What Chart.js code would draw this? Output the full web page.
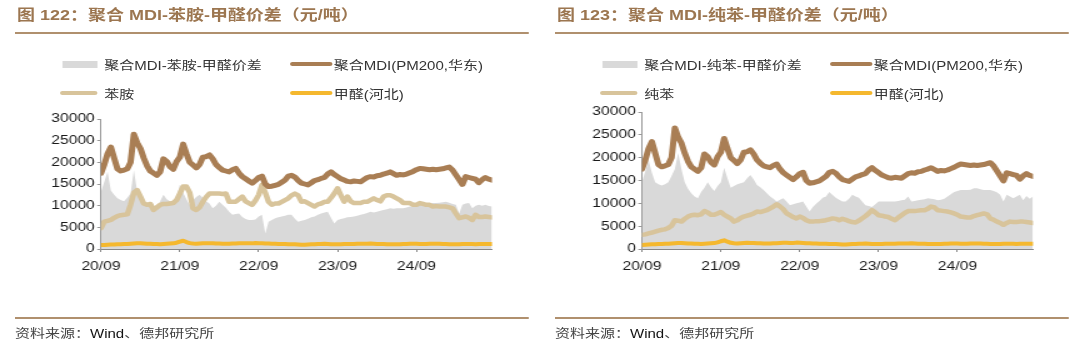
<!DOCTYPE html>
<html>
<head>
<meta charset="utf-8">
<script src="https://cdn.jsdelivr.net/npm/chart.js@4.4.1/dist/chart.umd.min.js"></script>
<style>
  html, body { margin: 0; padding: 0; background: #fff; overflow: hidden; }
  /* the whole sheet is laid out 864px wide and stretched to 1080 */
  #page { position: relative; width: 864px; height: 348px; transform: scaleX(1.25); transform-origin: 0 0; }
  .panel { position: absolute; top: 0; width: 432px; height: 348px; }
  .title { position: absolute; left: 13.6px; top: 6px; font: bold 14.4px 'Liberation Sans', 'Noto Sans CJK SC', sans-serif; color: #9c7650; white-space: nowrap; line-height: 18px; }
  .rule { position: absolute; left: 11.5px; width: 411px; height: 2px; background: #b0906e; }
  .rule.top { top: 32px; }
  .rule.bottom { top: 317px; }
  .source { position: absolute; left: 12px; top: 325px; font: 12px 'Noto Sans CJK SC', sans-serif; color: #444; white-space: nowrap; line-height: 16px; }
  .source b { font: 12px 'Liberation Sans', sans-serif; color: #111; }
  .legend .item { position: absolute; display: flex; align-items: center; height: 16px; font: 12px 'Liberation Sans', 'Noto Sans CJK SC', sans-serif; color: #333; white-space: nowrap; }
  .legend .c0 { left: 48.4px; }
  .legend .c1 { left: 232px; }
  .legend .r0 { top: 56px; }
  .legend .r1 { top: 85px; }
  .legend .box { display: inline-block; width: 28.5px; height: 7px; margin-left: 1.5px; margin-right: 5px; }
  .legend .line { display: inline-block; height: 4px; border-radius: 2px; }
  .legend .c0 .line { width: 30px; margin-right: 5px; }
  .legend .c1 .line { width: 33.5px; margin-right: 1.5px; }
  canvas { position: absolute; left: 0; }
</style>
</head>
<body>
<div id="page">
  <div class="panel" style="left:0">
    <div class="title">图 122：聚合 MDI-苯胺-甲醛价差（元/吨）</div>
    <div class="rule top"></div>
    <div class="legend" id="legend1"></div>
    <canvas id="chart1" width="400" height="175" style="top:105px"></canvas>
    <div class="rule bottom"></div>
    <div class="source">资料来源：<b>Wind</b>、德邦研究所</div>
  </div>
  <div class="panel" style="left:432px">
    <div class="title">图 123：聚合 MDI-纯苯-甲醛价差（元/吨）</div>
    <div class="rule top"></div>
    <div class="legend" id="legend2"></div>
    <canvas id="chart2" width="400" height="182" style="top:98px"></canvas>
    <div class="rule bottom"></div>
    <div class="source">资料来源：<b>Wind</b>、德邦研究所</div>
  </div>
</div>
<script>
// x axis labels, one per September
const tickLabels = ['20/09', '21/09', '22/09', '23/09', '24/09'];

// semi-monthly samples from Sep 2020, yuan/ton
const mdi = [
  17500, 19500, 22000, 23500, 21000, 18500, 18000, 18200,
  18500, 20000, 26500, 24500, 23200, 21000, 19200, 18000,
  17500, 17000, 17800, 20800, 20200, 19000, 18400, 20200,
  21200, 24200, 22000, 20000, 19400, 18700, 19500, 21200,
  21300, 21700, 20800, 19500, 18800, 18200, 18000, 17800,
  18300, 18600, 17500, 16700, 16200, 15700, 15200, 15800,
  16500, 16800, 15000, 14400, 14500, 14700, 14900, 15400,
  15900, 16800, 17000, 16600, 15800, 15200, 15000, 14800,
  15300, 15800, 16000, 16300, 16500, 17300, 17800, 17200,
  16700, 16200, 15900, 15600, 15500, 15700, 15600, 15500,
  16000, 16500, 16700, 16600, 16900, 17000, 17300, 17500,
  17800, 17400, 17000, 17200, 17100, 17300, 17600, 17900,
  18300, 18600, 18500, 18400, 18300, 18400, 18300, 18400,
  18500, 18700, 18900, 18200, 17100, 16000, 14900, 16700,
  16500, 16300, 16100, 15300, 16000, 16500, 16100, 15900
];
const formaldehyde = [
  900, 950, 1000, 1050, 1050, 1100, 1100, 1150,
  1150, 1200, 1250, 1300, 1300, 1250, 1200, 1200,
  1150, 1150, 1100, 1150, 1200, 1250, 1300, 1450,
  1700, 1900, 1600, 1350, 1250, 1200, 1250, 1300,
  1350, 1300, 1300, 1250, 1250, 1200, 1200, 1200,
  1250, 1250, 1300, 1350, 1350, 1300, 1300, 1400,
  1350, 1300, 1250, 1250, 1200, 1200, 1150, 1150,
  1150, 1100, 1100, 1100, 1050, 1000, 1000, 1050,
  1100, 1100, 1150, 1150, 1200, 1150, 1100, 1100,
  1100, 1100, 1150, 1150, 1150, 1150, 1200, 1200,
  1200, 1200, 1250, 1200, 1150, 1150, 1150, 1100,
  1100, 1100, 1100, 1100, 1150, 1150, 1200, 1200,
  1200, 1150, 1150, 1150, 1200, 1200, 1200, 1200,
  1150, 1150, 1100, 1100, 1100, 1100, 1150, 1150,
  1150, 1150, 1100, 1150, 1150, 1150, 1150, 1150
];
const aniline = [
  4800, 6300, 6500, 6700, 7200, 7600, 7800, 7900,
  8000, 10200, 13000, 13600, 12100, 10500, 10200, 10400,
  9000, 9600, 10200, 10400, 10400, 10500, 10600, 11300,
  12800, 14400, 14400, 13000, 9400, 9000, 9600, 10900,
  12000, 12800, 12800, 12800, 12800, 12700, 12800, 10900,
  10900, 10900, 11500, 12100, 11000, 10600, 10200, 11200,
  12500, 14800, 13000, 10900, 10200, 10500, 10500, 10900,
  11300, 11700, 12400, 12800, 12400, 10900, 11000, 10600,
  10200, 9800, 10300, 10500, 10900, 10900, 11800, 12800,
  14000, 12400, 10900, 12100, 11000, 10600, 10600, 10600,
  10900, 10900, 11300, 11700, 11300, 11000, 12100, 12400,
  12400, 12100, 11700, 11300, 10600, 10600, 10600, 10200,
  10200, 10600, 10400, 10200, 10200, 9800, 9900, 9800,
  9800, 9800, 9600, 9400, 8200, 7100, 7300, 7500,
  7200, 6700, 7900, 7400, 7400, 7500, 7400, 7300
];
const benzene = [
  3100, 3200, 3400, 3600, 3800, 4000, 4200, 4300,
  4600, 5100, 6300, 6200, 6000, 6600, 7100, 7400,
  7500, 7400, 7600, 8300, 8000, 7500, 7500, 7800,
  8100, 7500, 7100, 6700, 6000, 6300, 6800, 7100,
  7300, 7500, 7800, 8200, 8100, 8300, 8500, 8900,
  9300, 9800, 9300, 8700, 7800, 7400, 7000, 6700,
  7100, 6800, 6300, 6000, 6000, 6100, 6100, 6200,
  6300, 6500, 6700, 6600, 6300, 6600, 6400, 6100,
  5900, 5800, 6200, 6700, 7200, 7800, 8500, 8000,
  7400, 7300, 7100, 7000, 6600, 6300, 6900, 7400,
  7900, 8300, 8300, 8300, 8400, 8500, 8500, 8800,
  9300, 9100, 8500, 8400, 8300, 8200, 8000, 7800,
  7500, 7100, 7000, 6900, 6900, 7200, 7400, 7600,
  7800, 7600, 6700, 6400, 6000, 5700, 5300, 5700,
  6000, 5900, 5900, 6000, 6000, 5900, 5800, 5700
];
const spreadAniline = [
  13200, 15500, 17800, 13500, 12500, 11700, 11300, 11000,
  11800, 12800, 18200, 13300, 11800, 10900, 10500, 10200,
  9800, 9400, 11000, 12500, 11500, 11000, 10200, 12000,
  14800, 13000, 11500, 10200, 11300, 12000, 12500, 11800,
  11000, 10500, 9400, 10000, 10900, 10200, 9500, 8600,
  7900, 8100, 8200, 7400, 6900, 6700, 6700, 6800,
  7500, 7900, 3600, 6300, 6700, 7100, 7300, 7500,
  7700, 7900, 7900, 7000, 6300, 6500, 6700, 7000,
  7300, 7500, 7900, 8200, 8400, 8600, 7200, 5900,
  6700, 6900, 7100, 7300, 7400, 7500, 7700, 7900,
  8100, 8300, 8600, 8400, 8600, 8800, 9000, 9200,
  9400, 9300, 9400, 9400, 9400, 9600, 9800, 9800,
  10000, 10100, 10200, 10300, 10400, 10600, 10600, 10700,
  10800, 10900, 10700, 10400, 10200, 8200, 10200, 10500,
  10600, 9400, 10000, 10200, 10000, 10200, 9900, 9800
];
const spreadBenzene = [
  14700, 17000, 19500, 16700, 14600, 14200, 13900, 14200,
  14600, 16000, 17500, 21000, 17500, 14600, 13200, 12200,
  11500, 11100, 12500, 13400, 14600, 13500, 12700, 13800,
  14600, 17800, 15500, 13400, 13800, 14200, 14400, 14600,
  15500, 16200, 15200, 14000, 13500, 12900, 12200, 11500,
  11000, 10400, 10800, 11100, 10400, 9600, 9800, 10000,
  10200, 10400, 9300, 8200, 9200, 9900, 10500, 11200,
  11500, 12500, 11800, 11200, 10800, 10400, 10400, 11000,
  11900, 11500, 11200, 10400, 9600, 9400, 9200, 9800,
  10400, 10400, 10400, 10400, 10400, 10400, 10500, 10700,
  10800, 11500, 10400, 10500, 10700, 10800, 10900, 11100,
  11000, 10900, 10700, 10800, 11000, 11500, 12000, 12500,
  12700, 12900, 12900, 12900, 13000, 13300, 13300, 13100,
  12900, 12900, 12900, 12700, 12400, 11900, 10400, 11900,
  11500, 11100, 11500, 11900, 10700, 11600, 11000, 11500
];

const colors = { spread: '#d9d9d9', mdi: '#a97e54', feed: '#d8c49b', hcho: '#f5b82e' };
const tickFont = { family: "'Liberation Sans', Arial, sans-serif", size: 12.5 };

// half-month steps on a month axis
function toPoints(values) {
  return values.map((v, i) => ({ x: i / 2, y: v }));
}

function buildLegend(chart, el) {
  chart.data.datasets.forEach((ds, i) => {
    const item = document.createElement('div');
    item.className = 'item c' + (i % 2) + ' r' + Math.floor(i / 2);
    const sw = document.createElement('span');
    sw.className = ds.fill ? 'box' : 'line';
    sw.style.background = ds.fill ? ds.backgroundColor : ds.borderColor;
    item.appendChild(sw);
    item.appendChild(document.createTextNode(ds.label));
    el.appendChild(item);
  });
}

function makeChart(canvasId, legendId, spread, feed, labels, plotLeft, plotRight) {
  const chart = new Chart(document.getElementById(canvasId), {
    type: 'line',
    data: {
      datasets: [
        { label: labels[0], data: toPoints(spread), fill: 'origin', backgroundColor: colors.spread,
          borderColor: 'rgba(0,0,0,0)', borderWidth: 0, order: 4 },
        { label: labels[1], data: toPoints(mdi), borderColor: colors.mdi, borderWidth: 5, order: 1 },
        { label: labels[2], data: toPoints(feed), borderColor: colors.feed, borderWidth: 4.5, order: 3 },
        { label: labels[3], data: toPoints(formaldehyde), borderColor: colors.hcho, borderWidth: 4, order: 2 }
      ]
    },
    options: {
      responsive: false,
      animation: false,
      devicePixelRatio: 1,
      layout: { padding: { top: 14, left: 0, bottom: 0, right: 400 - plotRight } },
      elements: {
        point: { radius: 0 },
        line: { tension: 0, borderJoinStyle: 'round', borderCapStyle: 'round' }
      },
      plugins: { legend: { display: false }, tooltip: { enabled: false } },
      scales: {
        x: {
          type: 'linear',
          min: 0,
          max: 59.5,
          afterBuildTicks: s => { s.ticks = tickLabels.map((t, i) => ({ value: i * 12 })); },
          afterFit: s => { s.height = 31; },
          ticks: { callback: v => tickLabels[v / 12], maxRotation: 0, autoSkip: false, padding: 7, color: '#1a1a1a', font: tickFont },
          grid: { drawOnChartArea: false, tickLength: 3, color: '#888' },
          border: { color: '#888' }
        },
        y: {
          min: 0,
          max: 30000,
          afterFit: s => { s.width = plotLeft; },
          ticks: { stepSize: 5000, padding: 2, color: '#1a1a1a', font: tickFont, callback: v => String(v) },
          grid: { drawOnChartArea: false, tickLength: 3, color: '#999' },
          border: { color: '#999' }
        }
      }
    }
  });
  buildLegend(chart, document.getElementById(legendId));
  return chart;
}

makeChart('chart1', 'legend1', spreadAniline, aniline,
  ['聚合MDI-苯胺-甲醛价差', '聚合MDI(PM200,华东)', '苯胺', '甲醛(河北)'], 80.8, 393.6);
makeChart('chart2', 'legend2', spreadBenzene, benzene,
  ['聚合MDI-纯苯-甲醛价差', '聚合MDI(PM200,华东)', '纯苯', '甲醛(河北)'], 81.6, 394.4);
</script>
</body>
</html>
